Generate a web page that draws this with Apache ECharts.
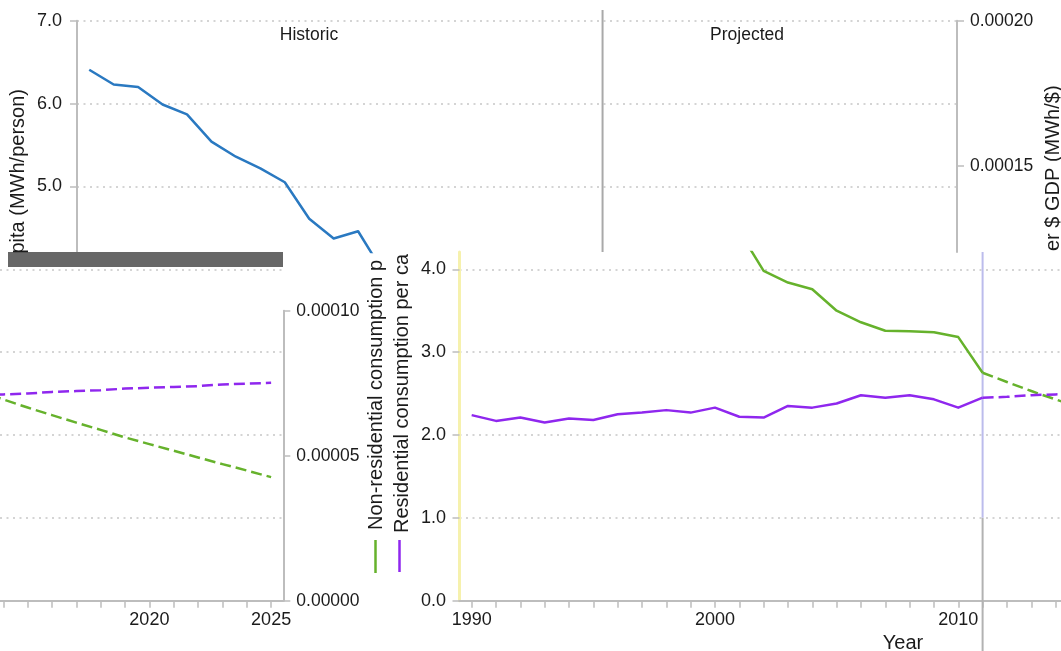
<!DOCTYPE html>
<html>
<head>
<meta charset="utf-8">
<script src="https://cdn.jsdelivr.net/npm/echarts@6/dist/echarts.min.js"></script>
<style>
  html, body { margin: 0; padding: 0; background: #ffffff; }
  #chart { width: 1061px; height: 651px; }
</style>
</head>
<body>
<div id="chart"></div>
<script>
// ---- data -------------------------------------------------------------
const histYears = [1990, 1991, 1992, 1993, 1994, 1995, 1996, 1997, 1998, 1999, 2000,
                   2001, 2002, 2003, 2004, 2005, 2006, 2007, 2008, 2009, 2010, 2011];
const projYears = [2011, 2012, 2013, 2014, 2015, 2016, 2017, 2018, 2019, 2020,
                   2021, 2022, 2023, 2024, 2025];

// Non-residential consumption per $ GDP (MWh/$)
const nonResHist = [0.0001831, 0.0001780, 0.0001771, 0.0001711, 0.0001677, 0.0001583,
                    0.0001531, 0.0001491, 0.0001443, 0.0001317, 0.0001249, 0.0001274,
                    0.0001137, 0.0001097, 0.0001074, 0.0001000, 0.0000960, 0.0000931,
                    0.0000929, 0.0000926, 0.0000909, 0.0000786];
const nonResProj = [0.0000786, 0.0000754, 0.0000723, 0.0000694, 0.0000666, 0.0000640,
                    0.0000614, 0.0000589, 0.0000563, 0.0000540, 0.0000517, 0.0000494,
                    0.0000471, 0.0000449, 0.0000426];

// Residential consumption per capita (MWh/person)
const resHist = [2.24, 2.17, 2.21, 2.15, 2.20, 2.18, 2.25, 2.27, 2.30, 2.27, 2.33,
                 2.22, 2.21, 2.35, 2.33, 2.38, 2.48, 2.45, 2.48, 2.43, 2.33, 2.45];
const resProj = [2.45, 2.46, 2.48, 2.49, 2.50, 2.52, 2.53, 2.54, 2.56, 2.57, 2.58,
                 2.59, 2.61, 2.62, 2.63];

const splitYear = 2011;
const yearLabels = [1990, 2000, 2010, 2020, 2025];
const resTicks = [0, 1, 2, 3, 4, 5, 6, 7];
const nonResTicks = [0, 0.00005, 0.0001, 0.00015, 0.0002];

// ---- layout ----------------------------------------------------------
const FONT = "'Liberation Sans', Arial, Helvetica, sans-serif";
const PX_PER_UNIT = 82.86;          // px per MWh/person on the left scale
const BASE_Y = 600.7;               // pixel row of the zero line
const TOP_Y = 20.7;                 // pixel row of the axis maximum
const CUT_Y = 252;                  // row where the upper band ends
const RES_MAX = 7;
const NONRES_MAX = 0.0002;
const RATIO = NONRES_MAX / RES_MAX; // right-axis units per left-axis unit
const resCut = (BASE_Y - CUT_Y) / PX_PER_UNIT;
const nonResCut = resCut * RATIO;

const GREEN = '#66b22c';
const PURPLE = '#8f27ee';
const BLUE = '#2a79c1';
const AXIS_GREY = '#bdbdbd';
const GRID_GREY = '#c6c6c6';
const TEXT = '#1b1b1b';

const allYears = histYears.concat(projYears.slice(1));
const zip = (xs, ys) => xs.map((x, i) => [x, ys[i]]);

function xAx(gridIndex, min, max, show) {
  return {
    type: 'value', gridIndex, min, max, show,
    axisLine: { show: true, onZero: false, lineStyle: { color: AXIS_GREY, width: 2 } },
    axisTick: { show: true, length: 7, customValues: allYears,
                lineStyle: { color: AXIS_GREY, width: 1.5 } },
    axisLabel: { customValues: yearLabels, formatter: v => String(Math.round(v)),
                 color: TEXT, fontSize: 18, fontFamily: FONT, margin: 10 },
    splitLine: { show: false }
  };
}

function yAx(gridIndex, position, min, max, ticks, o) {
  return {
    type: 'value', gridIndex, position, min, max,
    show: o.show !== false,
    axisLine: { show: o.line !== false, onZero: false,
                lineStyle: { color: o.lineColor || AXIS_GREY, width: o.lineWidth || 2 } },
    axisTick: { show: o.tick !== false, length: 7, customValues: ticks,
                lineStyle: { color: AXIS_GREY, width: 1.5 } },
    axisLabel: { show: o.label !== false, customValues: ticks,
                 formatter: v => v.toFixed(o.digits),
                 color: TEXT, fontSize: o.fontSize || 18, fontFamily: FONT,
                 margin: o.margin || 14 },
    splitLine: { show: !!o.split,
                 lineStyle: { color: GRID_GREY, width: 1.5, type: [2, 4.5] } }
  };
}

function line(xi, yi, xs, ys, color, dashed, extra) {
  return Object.assign({
    type: 'line', xAxisIndex: xi, yAxisIndex: yi, data: zip(xs, ys),
    symbol: 'none', showSymbol: false, silent: true, clip: true, z: 3,
    lineStyle: { color, width: 2.5, type: dashed ? [11, 5] : 'solid', cap: 'butt', join: 'round' },
    itemStyle: { color }
  }, extra || {});
}

// upper band: years 1989.5-2025.5 over 880 px
const topGrid = { left: 77, top: TOP_Y, width: 880, height: CUT_Y - TOP_Y };
// lower band, right part: starts at the left axis
const brWidth = 1061 - 459.5;
const brGrid = { left: 459.5, top: CUT_Y, width: brWidth, height: BASE_Y - CUT_Y };
const brMax = 1989.5 + brWidth / 24.33;
// lower band, left part: ends at the right axis
const blWidth = 283.3;
const blGrid = { left: 0, top: CUT_Y, width: blWidth, height: BASE_Y - CUT_Y };
const blMin = 2025.5 - blWidth / 24.35;
const blRightTop = BASE_Y - (0.0001 / RATIO) * PX_PER_UNIT;
const blGrid2 = { left: 0, top: blRightTop, width: blWidth, height: BASE_Y - blRightTop };

const grids = [topGrid, brGrid, blGrid, blGrid2].map(g =>
  Object.assign({ containLabel: false, outerBoundsMode: 'none', show: false }, g));

const dividerTop = NONRES_MAX + ((TOP_Y - 10) / PX_PER_UNIT) * RATIO;
const dividerBottom = (BASE_Y - 651) / PX_PER_UNIT;

const option = {
  animation: false,
  backgroundColor: '#ffffff',
  grid: grids,
  xAxis: [
    xAx(0, 1989.5, 2025.5, false),
    xAx(1, 1989.5, brMax, true),
    xAx(2, blMin, 2025.5, true),
    xAx(3, blMin, 2025.5, false)
  ],
  yAxis: [
    yAx(0, 'left', resCut, RES_MAX, resTicks, { digits: 1, split: true, margin: 15 }),
    yAx(0, 'right', nonResCut, NONRES_MAX, nonResTicks, { digits: 5, fontSize: 17.5, margin: 13 }),
    yAx(1, 'left', 0, resCut, resTicks, { digits: 1, split: true, margin: 13.5,
                                          lineColor: '#f6f1ad', lineWidth: 3 }),
    yAx(1, 'right', 0, nonResCut, nonResTicks, { digits: 5, show: false }),
    yAx(2, 'left', 0, resCut, resTicks, { digits: 1, split: true, line: false, tick: false, label: false }),
    yAx(3, 'right', 0, 0.0001, nonResTicks, { digits: 5, fontSize: 17.5, margin: 13 })
  ],
  series: [
    // Historic / Projected boundary
    line(0, 1, [splitYear, splitYear], [dividerTop, nonResCut], '#a9a9a9', false,
         { clip: false, z: 2, lineStyle: { color: '#a9a9a9', width: 2 } }),
    line(1, 2, [splitYear, splitYear], [resCut, 1], '#bcbcec', false,
         { clip: false, z: 2, lineStyle: { color: '#bcbcec', width: 2 } }),
    line(1, 2, [splitYear, splitYear], [1, dividerBottom], '#b2b2b2', false,
         { clip: false, z: 2, lineStyle: { color: '#b2b2b2', width: 2 } }),

    // upper band
    line(0, 1, histYears, nonResHist, BLUE, false),

    // lower band, right part
    line(1, 3, histYears, nonResHist, GREEN, false),
    line(1, 3, projYears, nonResProj, GREEN, true),
    line(1, 2, histYears, resHist, PURPLE, false),
    line(1, 2, projYears, resProj, PURPLE, true),

    // lower band, left part
    line(2, 4, projYears, resProj, PURPLE, true),
    line(3, 5, projYears, nonResProj, GREEN, true)
  ],
  graphic: {
    elements: [
      { type: 'rect', z: 50, shape: { x: 8, y: CUT_Y, width: 275, height: 15 },
        style: { fill: '#676767' } },
      { type: 'text', z: 60, x: 309, y: 35,
        style: { text: 'Historic', fontSize: 17.5, fontFamily: FONT, fill: TEXT,
                 align: 'center', verticalAlign: 'middle',
                 textAlign: 'center', textVerticalAlign: 'middle' } },
      { type: 'text', z: 60, x: 747, y: 35,
        style: { text: 'Projected', fontSize: 17.5, fontFamily: FONT, fill: TEXT,
                 align: 'center', verticalAlign: 'middle',
                 textAlign: 'center', textVerticalAlign: 'middle' } },
      { type: 'text', z: 60, x: 903, y: 643,
        style: { text: 'Year', fontSize: 20, fontFamily: FONT, fill: TEXT,
                 align: 'center', verticalAlign: 'middle',
                 textAlign: 'center', textVerticalAlign: 'middle' } },
      // axis titles, read bottom to top
      { type: 'text', z: 60, x: 18, y: 253.5, rotation: Math.PI / 2,
        style: { text: 'pita (MWh/person)', fontSize: 20, fontFamily: FONT, fill: TEXT,
                 align: 'left', verticalAlign: 'middle',
                 textAlign: 'left', textVerticalAlign: 'middle' } },
      { type: 'text', z: 60, x: 1053, y: 251, rotation: Math.PI / 2,
        style: { text: 'er $ GDP (MWh/$)', fontSize: 20, fontFamily: FONT, fill: TEXT,
                 align: 'left', verticalAlign: 'middle',
                 textAlign: 'left', textVerticalAlign: 'middle' } },
      { type: 'text', z: 60, x: 376, y: 530, rotation: Math.PI / 2,
        style: { text: 'Non-residential consumption p', fontSize: 20, fontFamily: FONT, fill: TEXT,
                 align: 'left', verticalAlign: 'middle',
                 textAlign: 'left', textVerticalAlign: 'middle' } },
      { type: 'text', z: 60, x: 402, y: 533, rotation: Math.PI / 2,
        style: { text: 'Residential consumption per ca', fontSize: 20, fontFamily: FONT, fill: TEXT,
                 align: 'left', verticalAlign: 'middle',
                 textAlign: 'left', textVerticalAlign: 'middle' } },
      // series keys under the titles
      { type: 'line', z: 60, shape: { x1: 375.5, y1: 540, x2: 375.5, y2: 573 },
        style: { stroke: GREEN, lineWidth: 2.5 } },
      { type: 'line', z: 60, shape: { x1: 399.5, y1: 540, x2: 399.5, y2: 572 },
        style: { stroke: PURPLE, lineWidth: 2.5 } }
    ]
  }
};

const chart = echarts.init(document.getElementById('chart'), null, { renderer: 'canvas' });
chart.setOption(option);
</script>
</body>
</html>
